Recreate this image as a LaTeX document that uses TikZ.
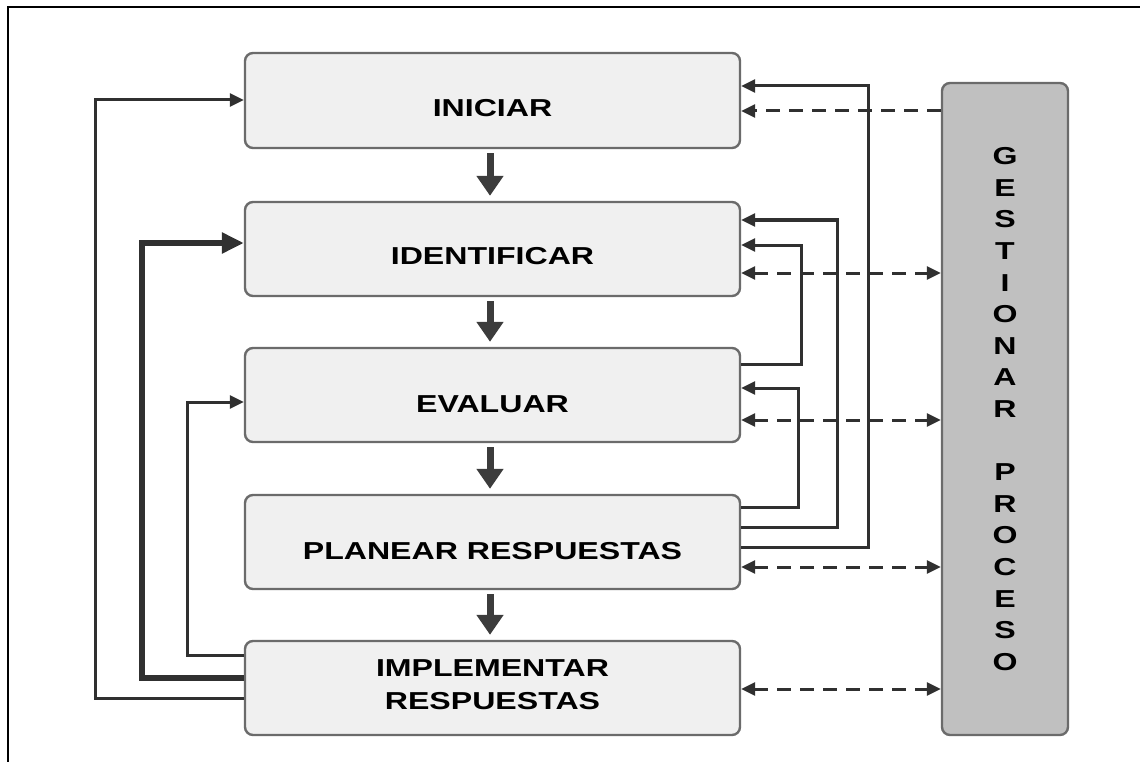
\documentclass[tikz,border=0pt]{standalone}
\usepackage{fontspec}
\newfontfamily\lblfont{Liberation Sans}[FakeStretch=1.31]
\usetikzlibrary{arrows.meta}
\definecolor{boxfill}{HTML}{F0F0F0}
\definecolor{boxline}{HTML}{6B6B6B}
\definecolor{gesfill}{HTML}{C0C0C0}
\definecolor{linec}{HTML}{303030}
\definecolor{arrowc}{HTML}{3C3C3C}
\begin{document}
\begin{tikzpicture}[x=1pt,y=-1pt,
  box/.style={draw=boxline,fill=boxfill,line width=2.4pt,rounded corners=8pt,minimum width=495pt,minimum height=94pt,inner sep=0pt},
  lbl/.style={font=\lblfont\bfseries\fontsize{24.5}{33}\selectfont,text=black,inner sep=0pt,align=center},
  downarr/.style={draw=arrowc,line width=7pt,-{Triangle[width=26pt,length=20pt]},shorten <=4pt,shorten >=5pt},
  conn/.style={draw=linec,line width=3pt,-{Triangle[width=13pt,length=14pt]}},
  thickconn/.style={draw=linec,line width=6pt,-{Triangle[width=20pt,length=22pt]}},
  dsh/.style={draw=linec,line width=3pt,dash pattern=on 14pt off 9pt},
  dtip/.tip={Triangle[width=13pt,length=14pt]}
]
\useasboundingbox (0,0) rectangle (1140,762);
\draw[line width=2pt,black] (8,762) -- (8,7) -- (1140,7);

% boxes
\node[box,minimum height=95pt] (ini) at (492.5,100.5) {};
\node[box] (ide) at (492.5,249) {};
\node[box] (eva) at (492.5,395) {};
\node[box] (pla) at (492.5,542) {};
\node[box] (imp) at (492.5,688) {};
\node[box,fill=gesfill,minimum width=126pt,minimum height=652pt] (ges) at (1005,409) {};

% labels
\node[lbl] (iniT) at ([yshift=-8pt]ini.center) {INICIAR};
\node[lbl] (ideT) at ([yshift=-7pt]ide.center) {IDENTIFICAR};
\node[lbl] (evaT) at ([yshift=-9pt]eva.center) {EVALUAR};
\node[lbl] (plaT) at ([yshift=-9pt]pla.center) {PLANEAR RESPUESTAS};
\node[lbl] (impT) at ([yshift=3.5pt]imp.center) {IMPLEMENTAR\\RESPUESTAS};
\node[lbl,font=\lblfont\bfseries\fontsize{24.5}{31.6}\selectfont] (gesT) at (ges.center)
  {G\\E\\S\\T\\I\\O\\N\\A\\R\\[31.6pt]P\\R\\O\\C\\E\\S\\O};

% down arrows
\draw[downarr] ([xshift=-2.5pt]ini.south) -- ([xshift=-2.5pt]ide.north);
\draw[downarr] ([xshift=-2.5pt]ide.south) -- ([xshift=-2.5pt]eva.north);
\draw[downarr] ([xshift=-2.5pt]eva.south) -- ([xshift=-2.5pt]pla.north);
\draw[downarr] ([xshift=-2.5pt]pla.south) -- ([xshift=-2.5pt]imp.north);

% left feedback
\draw[conn] (imp.west |- 0,698) -- (95,698) -- (95,100) -- (ini.west |- 0,100);
\draw[thickconn] (imp.west |- 0,678) -- (142,678) -- (142,243) -- (ide.west |- 0,243);
\draw[conn] (imp.west |- 0,655) -- (187,655) -- (187,402) -- (eva.west |- 0,402);

% right feedback
\draw[conn] (pla.east |- 0,547) -- (868,547) -- (868,86) -- (ini.east |- 0,86);
\draw[conn] (pla.east |- 0,527) -- (837,527) -- (837,220) -- (ide.east |- 0,220);
\draw[conn] (eva.east |- 0,364) -- (801,364) -- (801,245) -- (ide.east |- 0,245);
\draw[conn] (pla.east |- 0,507) -- (798,507) -- (798,388) -- (eva.east |- 0,388);

% dashed links with process management
\draw[dsh,-dtip] (ges.west |- 0,111) -- (ini.east |- 0,111);
\draw[dsh,dtip-dtip] (ide.east |- 0,273) -- (ges.west |- 0,273);
\draw[dsh,dtip-dtip] (eva.east |- 0,420) -- (ges.west |- 0,420);
\draw[dsh,dtip-dtip] (pla.east |- 0,567) -- (ges.west |- 0,567);
\draw[dsh,dtip-dtip] (imp.east |- 0,689) -- (ges.west |- 0,689);
\end{tikzpicture}
\end{document}
